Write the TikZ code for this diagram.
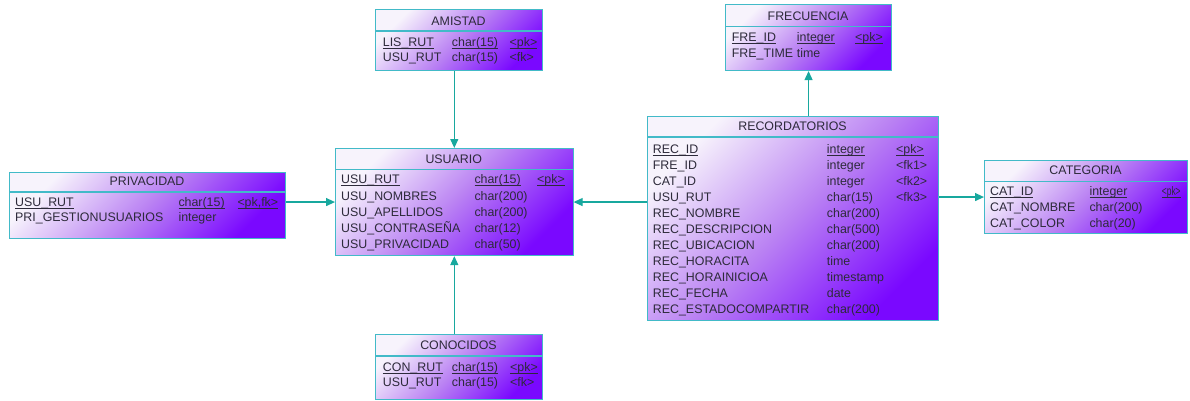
\documentclass[tikz,border=0pt]{standalone}
\usepackage{fontspec}
\setmainfont{Liberation Sans}
\usetikzlibrary{arrows.meta}
\definecolor{bordc}{RGB}{66,186,200}
\definecolor{connc}{RGB}{24,168,158}
\definecolor{txtc}{RGB}{45,42,58}
\definecolor{gtop}{RGB}{247,243,252}
\definecolor{gmid}{RGB}{186,130,243}
\definecolor{gbot}{RGB}{122,8,255}
\newcommand\ulx[1]{\setbox0\hbox{#1}\rlap{\rule[-2.2pt]{\wd0}{0.8pt}}\box0}
% table box: name, x1, y1, x2, y2, header y, title, title baseline
\newcommand\erbox[8]{%
  \node[tbl, minimum width={(#4-#2)*1pt}, minimum height={(#5-#3)*1pt}] (#1) at (#2,#3) {};
  \draw[hline] (#2,#6) -- (#4,#6);
  \node[ttl] (#1-title) at ({(#2+#4)/2},#8) {#7};
}
% row with three columns: name, baseline, x1, t1, x2, t2, x3, t3
\newcommand\errow[8]{%
  \node[txt] (#1-n) at (#3,#2) {#4};
  \node[txt] (#1-t) at (#5,#2) {#6};
  \node[txt] (#1-k) at (#7,#2) {#8};
}
% row with two columns
\newcommand\errowb[6]{%
  \node[txt] (#1-n) at (#3,#2) {#4};
  \node[txt] (#1-t) at (#5,#2) {#6};
}
\begin{document}
\begin{tikzpicture}[x=1pt,y=-1pt,
  tbl/.style={draw=bordc, line width=1.1pt, rectangle, anchor=north west, inner sep=0pt,
    top color=gtop, bottom color=gbot, middle color=gmid, shading angle=45},
  hline/.style={draw=bordc, line width=1.1pt},
  txt/.style={anchor=base west, inner sep=0pt, text=txtc, font=\fontsize{12.4}{14}\selectfont},
  ttl/.style={anchor=base, inner sep=0pt, text=txtc, font=\fontsize{12.4}{14}\selectfont},
  conn/.style={draw=connc, line width=1.2pt, -{Triangle[length=9pt,width=8pt]}}
]
\useasboundingbox (0,0) rectangle (1190,401);

% AMISTAD
\erbox{ami}{375}{9}{542}{70}{31}{AMISTAD}{25.2}
\errow{ami1}{46.8}{382.7}{\ulx{LIS\_RUT}}{451.7}{\ulx{char(15)}}{509.5}{\ulx{<pk>}}
\errow{ami2}{61.8}{382.7}{USU\_RUT}{451.7}{char(15)}{509.5}{<fk>}

% FRECUENCIA
\erbox{fre}{725}{4}{891}{70}{26.5}{FRECUENCIA}{20.5}
\errow{fre1}{41.8}{731.7}{\ulx{FRE\_ID}}{796.7}{\ulx{integer}}{855}{\ulx{<pk>}}
\errowb{fre2}{57.8}{731.7}{FRE\_TIME}{796.7}{time}

% USUARIO
\erbox{usu}{335}{148}{572.5}{255}{169.5}{USUARIO}{163.5}
\errow{usu1}{183.8}{341}{\ulx{USU\_RUT}}{474.3}{\ulx{char(15)}}{537}{\ulx{<pk>}}
\errowb{usu2}{200}{341}{USU\_NOMBRES}{474.3}{char(200)}
\errowb{usu3}{216.3}{341}{USU\_APELLIDOS}{474.3}{char(200)}
\errowb{usu4}{232.5}{341}{USU\_CONTRASEÑA}{474.3}{char(12)}
\errowb{usu5}{248.8}{341}{USU\_PRIVACIDAD}{474.3}{char(50)}

% PRIVACIDAD
\erbox{pri}{9}{172}{285}{238}{192}{PRIVACIDAD}{185.5}
\errow{pri1}{206.2}{15}{\ulx{USU\_RUT}}{178.3}{\ulx{char(15)}}{237.3}{\ulx{<pk,fk>}}
\errowb{pri2}{221.2}{15}{PRI\_GESTIONUSUARIOS}{178.3}{integer}

% RECORDATORIOS
\erbox{rec}{647}{116}{938}{320}{137}{RECORDATORIOS}{130.2}
\errow{rec1}{153.8}{652.7}{\ulx{REC\_ID}}{826.7}{\ulx{integer}}{896}{\ulx{<pk>}}
\errow{rec2}{169.8}{652.7}{FRE\_ID}{826.7}{integer}{896}{<fk1>}
\errow{rec3}{185.8}{652.7}{CAT\_ID}{826.7}{integer}{896}{<fk2>}
\errow{rec4}{201.8}{652.7}{USU\_RUT}{826.7}{char(15)}{896}{<fk3>}
\errowb{rec5}{217.8}{652.7}{REC\_NOMBRE}{826.7}{char(200)}
\errowb{rec6}{233.8}{652.7}{REC\_DESCRIPCION}{826.7}{char(500)}
\errowb{rec7}{249.8}{652.7}{REC\_UBICACION}{826.7}{char(200)}
\errowb{rec8}{265.8}{652.7}{REC\_HORACITA}{826.7}{time}
\errowb{rec9}{281.8}{652.7}{REC\_HORAINICIOA}{826.7}{timestamp}
\errowb{rec10}{297.8}{652.7}{REC\_FECHA}{826.7}{date}
\errowb{rec11}{313.8}{652.7}{REC\_ESTADOCOMPARTIR}{826.7}{char(200)}

% CATEGORIA
\erbox{cat}{984}{160}{1187}{233}{181.5}{CATEGORIA}{174.5}
\errow{cat1}{195.2}{990}{\ulx{CAT\_ID}}{1089.3}{\ulx{integer}}{1161.7}{\ulx{\scalebox{0.68}[1]{<pk>}}}
\errowb{cat2}{211.2}{990}{CAT\_NOMBRE}{1089.3}{char(200)}
\errowb{cat3}{227.5}{990}{CAT\_COLOR}{1089.3}{char(20)}

% CONOCIDOS
\erbox{con}{375}{334}{542}{399}{356}{CONOCIDOS}{349.5}
\errow{con1}{371.8}{382.7}{\ulx{CON\_RUT}}{451.7}{\ulx{char(15)}}{510}{\ulx{<pk>}}
\errow{con2}{386.2}{382.7}{USU\_RUT}{451.7}{char(15)}{510}{<fk>}

% connectors
\draw[conn] (ami.south -| usu.north) -- (usu.north);
\draw[conn] (con.north -| usu.south) -- (usu.south);
\draw[conn] (pri.east |- usu.west) -- (usu.west);
\draw[conn] (rec.west |- usu.east) -- (usu.east);
\draw[conn] (rec.north -| fre.south) -- (fre.south);
\draw[conn] (rec.east |- cat.west) -- (cat.west);
\end{tikzpicture}
\end{document}
